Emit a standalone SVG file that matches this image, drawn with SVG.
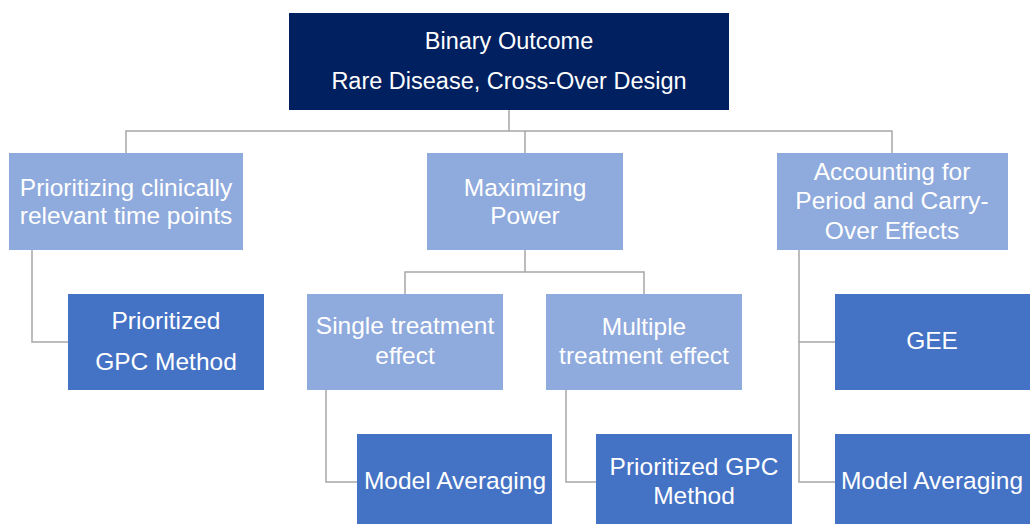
<svg xmlns="http://www.w3.org/2000/svg" width="1030" height="524" viewBox="0 0 1030 524">
<style>
.t{font-family:"Liberation Sans",Arial,sans-serif;font-size:24.5px;fill:#ffffff;text-anchor:middle}
.tr{font-size:23.5px}
.navy{fill:#002060}
.light{fill:#8faadc}
.mid{fill:#4472c4}
.c{fill:none;stroke:#a6a6a6;stroke-width:1.5}
</style>
<rect width="1030" height="524" fill="#ffffff"/>
<g id="connectors">
<path class="c" d="M509 110V131M126 153V131H892V153M525 131V153"/>
<path class="c" d="M32 250V342H68"/>
<path class="c" d="M525 250V272M405 294V272H644V294"/>
<path class="c" d="M326 390V482H357"/>
<path class="c" d="M566 390V482H596"/>
<path class="c" d="M799 250V482H835M799 342H835"/>
</g>
<g id="root">
<rect class="navy" x="289" y="13" width="440" height="97"/>
<text class="t tr" x="509" y="49">Binary Outcome</text>
<text class="t tr" x="509" y="89">Rare Disease, Cross-Over Design</text>
</g>
<g id="prioritizing">
<rect class="light" x="9" y="153" width="234" height="97"/>
<text class="t" x="126" y="196">Prioritizing clinically</text>
<text class="t" x="126" y="224">relevant time points</text>
</g>
<g id="maximizing">
<rect class="light" x="427" y="153" width="196" height="97"/>
<text class="t" x="525" y="196">Maximizing</text>
<text class="t" x="525" y="224">Power</text>
</g>
<g id="accounting">
<rect class="light" x="777" y="153" width="231" height="97"/>
<text class="t" x="892" y="180">Accounting for</text>
<text class="t" x="892" y="209">Period and Carry-</text>
<text class="t" x="892" y="239">Over Effects</text>
</g>
<g id="gpc1">
<rect class="mid" x="68" y="294" width="196" height="96"/>
<text class="t" x="166" y="329">Prioritized</text>
<text class="t" x="166" y="370">GPC Method</text>
</g>
<g id="single">
<rect class="light" x="307" y="294" width="196" height="96"/>
<text class="t" x="405" y="334">Single treatment</text>
<text class="t" x="405" y="364">effect</text>
</g>
<g id="multiple">
<rect class="light" x="546" y="294" width="196" height="96"/>
<text class="t" x="644" y="335">Multiple</text>
<text class="t" x="644" y="364">treatment effect</text>
</g>
<g id="gee">
<rect class="mid" x="835" y="294" width="200" height="96"/>
<text class="t" x="932" y="349">GEE</text>
</g>
<g id="ma1">
<rect class="mid" x="357" y="434" width="195" height="95"/>
<text class="t" x="455" y="489">Model Averaging</text>
</g>
<g id="gpc2">
<rect class="mid" x="596" y="434" width="196" height="95"/>
<text class="t" x="694" y="475">Prioritized GPC</text>
<text class="t" x="694" y="504">Method</text>
</g>
<g id="ma2">
<rect class="mid" x="835" y="434" width="200" height="95"/>
<text class="t" x="932" y="489">Model Averaging</text>
</g>
</svg>
